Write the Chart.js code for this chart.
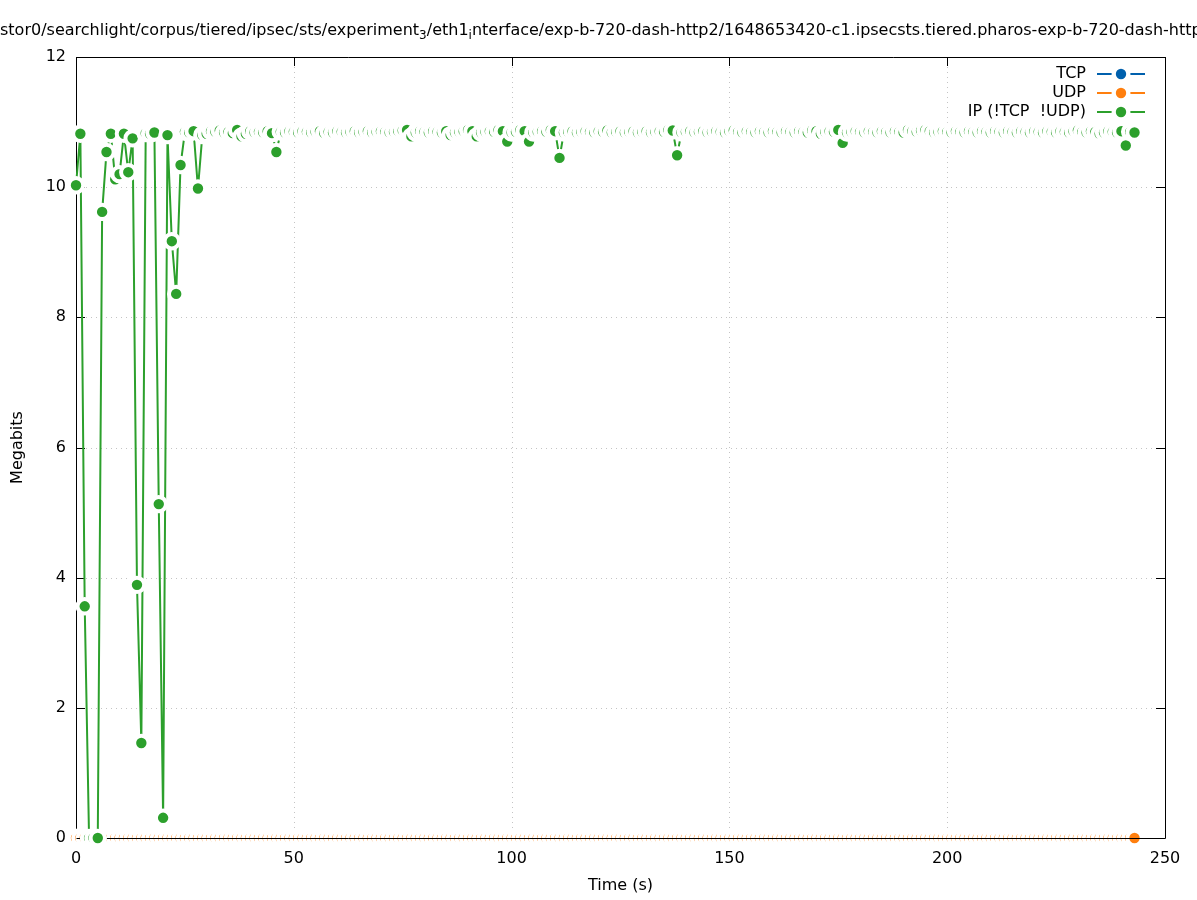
<!DOCTYPE html>
<html>
<head>
<meta charset="utf-8">
<script src="https://cdn.jsdelivr.net/npm/chart.js@4.4.1/dist/chart.umd.min.js"></script>
<style>
html,body{margin:0;padding:0;background:#fff;}
#wrap{width:1197px;height:900px;position:relative;}
</style>
</head>
<body>
<div id="wrap"><canvas id="c" width="1197" height="900"></canvas></div>
<script>
// ---- data ----
const timeSec = [
0,1,2,3,4,5,6,7,8,9,10,11,12,13,14,15,16,17,18,19,20,21,22,23,24,25,26,27,28,29,
30,31,32,33,34,35,36,37,38,39,40,41,42,43,44,45,46,47,48,49,50,51,52,53,54,55,56,57,58,59,
60,61,62,63,64,65,66,67,68,69,70,71,72,73,74,75,76,77,78,79,80,81,82,83,84,85,86,87,88,89,
90,91,92,93,94,95,96,97,98,99,100,101,102,103,104,105,106,107,108,109,110,111,112,113,114,115,116,117,118,119,
120,121,122,123,124,125,126,127,128,129,130,131,132,133,134,135,136,137,138,139,140,141,142,143,144,145,146,147,148,149,
150,151,152,153,154,155,156,157,158,159,160,161,162,163,164,165,166,167,168,169,170,171,172,173,174,175,176,177,178,179,
180,181,182,183,184,185,186,187,188,189,190,191,192,193,194,195,196,197,198,199,200,201,202,203,204,205,206,207,208,209,
210,211,212,213,214,215,216,217,218,219,220,221,222,223,224,225,226,227,228,229,230,231,232,233,234,235,236,237,238,239,
240,241,242,243];

const tcpMbits = [
0,0,0,0,0,0,0,0,0,0,0,0,0,0,0,0,0,0,0,0,0,0,0,0,0,0,0,0,0,0,
0,0,0,0,0,0,0,0,0,0,0,0,0,0,0,0,0,0,0,0,0,0,0,0,0,0,0,0,0,0,
0,0,0,0,0,0,0,0,0,0,0,0,0,0,0,0,0,0,0,0,0,0,0,0,0,0,0,0,0,0,
0,0,0,0,0,0,0,0,0,0,0,0,0,0,0,0,0,0,0,0,0,0,0,0,0,0,0,0,0,0,
0,0,0,0,0,0,0,0,0,0,0,0,0,0,0,0,0,0,0,0,0,0,0,0,0,0,0,0,0,0,
0,0,0,0,0,0,0,0,0,0,0,0,0,0,0,0,0,0,0,0,0,0,0,0,0,0,0,0,0,0,
0,0,0,0,0,0,0,0,0,0,0,0,0,0,0,0,0,0,0,0,0,0,0,0,0,0,0,0,0,0,
0,0,0,0,0,0,0,0,0,0,0,0,0,0,0,0,0,0,0,0,0,0,0,0,0,0,0,0,0,0,
0,0,0,0];

const udpMbits = [
0,0,0,0,0,0,0,0,0,0,0,0,0,0,0,0,0,0,0,0,0,0,0,0,0,0,0,0,0,0,
0,0,0,0,0,0,0,0,0,0,0,0,0,0,0,0,0,0,0,0,0,0,0,0,0,0,0,0,0,0,
0,0,0,0,0,0,0,0,0,0,0,0,0,0,0,0,0,0,0,0,0,0,0,0,0,0,0,0,0,0,
0,0,0,0,0,0,0,0,0,0,0,0,0,0,0,0,0,0,0,0,0,0,0,0,0,0,0,0,0,0,
0,0,0,0,0,0,0,0,0,0,0,0,0,0,0,0,0,0,0,0,0,0,0,0,0,0,0,0,0,0,
0,0,0,0,0,0,0,0,0,0,0,0,0,0,0,0,0,0,0,0,0,0,0,0,0,0,0,0,0,0,
0,0,0,0,0,0,0,0,0,0,0,0,0,0,0,0,0,0,0,0,0,0,0,0,0,0,0,0,0,0,
0,0,0,0,0,0,0,0,0,0,0,0,0,0,0,0,0,0,0,0,0,0,0,0,0,0,0,0,0,0,
0,0,0,0];

const ipMbits = [
10.03,10.82,3.56,0,0,0.0,9.62,10.54,10.82,10.12,
10.20,10.82,10.23,10.75,3.89,1.46,10.83,10.82,10.84,5.13,
0.31,10.80,9.17,8.36,10.34,10.85,10.84,10.86,9.98,10.80,
10.82,10.86,10.85,10.87,10.84,10.85,10.83,10.88,10.78,10.82,
10.86,10.84,10.85,10.84,10.86,10.83,10.54,10.85,10.84,10.86,
10.85,10.84,10.86,10.85,10.84,10.85,10.86,10.83,10.85,10.84,
10.86,10.85,10.84,10.85,10.86,10.84,10.85,10.86,10.84,10.85,
10.86,10.85,10.84,10.85,10.86,10.87,10.88,10.78,10.84,10.86,
10.85,10.84,10.86,10.85,10.84,10.86,10.80,10.84,10.85,10.86,
10.88,10.86,10.78,10.84,10.85,10.86,10.85,10.88,10.86,10.70,
10.84,10.85,10.88,10.86,10.70,10.84,10.85,10.86,10.85,10.88,
10.86,10.45,10.84,10.85,10.86,10.84,10.85,10.86,10.85,10.84,
10.86,10.85,10.87,10.84,10.85,10.86,10.84,10.85,10.86,10.84,
10.85,10.86,10.84,10.85,10.86,10.85,10.88,10.87,10.49,10.84,
10.85,10.86,10.84,10.85,10.86,10.84,10.85,10.86,10.85,10.84,
10.86,10.87,10.85,10.84,10.86,10.85,10.84,10.86,10.85,10.84,
10.86,10.85,10.84,10.86,10.85,10.84,10.86,10.85,10.84,10.87,
10.86,10.82,10.85,10.86,10.85,10.88,10.68,10.84,10.85,10.86,
10.85,10.84,10.86,10.85,10.84,10.86,10.85,10.84,10.86,10.85,
10.84,10.88,10.86,10.85,10.87,10.88,10.86,10.84,10.85,10.86,
10.85,10.84,10.86,10.85,10.84,10.86,10.85,10.84,10.86,10.85,
10.84,10.86,10.85,10.84,10.86,10.85,10.84,10.86,10.85,10.84,
10.86,10.85,10.84,10.86,10.85,10.84,10.86,10.85,10.84,10.86,
10.87,10.85,10.84,10.86,10.85,10.82,10.84,10.86,10.85,10.84,
10.86,10.64,10.85,10.84];

const seriesNames = ['TCP', 'UDP', 'IP (!TCP  !UDP)'];
const seriesColors = ['#0060ad', '#ff7f0e', '#2ca02c'];
const xTickStep = 50, yTickStep = 2;
const xRange = [0, 250], yRange = [0, 12];
const titleParts = [
  ['stor0/searchlight/corpus/tiered/ipsec/sts/experiment', false],
  ['3', true],
  ['/eth1', false],
  ['i', true],
  ['nterface/exp-b-720-dash-http2/1648653420-c1.ipsecsts.tiered.pharos-exp-b-720-dash-http2', false]
];
const xTitle = 'Time (s)';
const yTitle = 'Megabits';

// ---- chart ----
const FONT = '"DejaVu Sans", "Liberation Sans", sans-serif';
const FS = 16;

function toPts(vals){ return timeSec.map((t,i)=>({x:t, y:vals[i]})); }

function ds(label, vals, color, order){
  return {
    label, data: toPts(vals), order,
    borderColor: color, backgroundColor: color,
    borderWidth: 2, tension: 0,
    pointRadius: 7.2, pointHoverRadius: 7.2,
    pointBorderWidth: 4, pointHoverBorderWidth: 4,
    pointBorderColor: '#ffffff', pointBackgroundColor: color,
    clip: false
  };
}

const framePlugin = {
  id: 'frame',
  beforeDatasetsDraw(chart){
    const {ctx, chartArea:a, scales:{x, y}} = chart;
    ctx.save();
    ctx.lineWidth = 1;
    ctx.strokeStyle = '#c4c4c4';
    ctx.setLineDash([1,4]);
    x.ticks.forEach(t=>{
      if (t.value > x.min && t.value < x.max){
        const p = Math.round(x.getPixelForValue(t.value)) + 0.5;
        ctx.beginPath(); ctx.moveTo(p, a.top); ctx.lineTo(p, a.bottom); ctx.stroke();
      }
    });
    y.ticks.forEach(t=>{
      if (t.value > y.min && t.value < y.max){
        const p = Math.round(y.getPixelForValue(t.value)) + 0.5;
        ctx.beginPath(); ctx.moveTo(a.left, p); ctx.lineTo(a.right, p); ctx.stroke();
      }
    });
    ctx.setLineDash([]);
    ctx.strokeStyle = '#000';
    const TL = 9;
    x.ticks.forEach(t=>{
      const p = Math.round(x.getPixelForValue(t.value)) + 0.5;
      ctx.beginPath();
      ctx.moveTo(p, a.bottom); ctx.lineTo(p, a.bottom - TL);
      ctx.moveTo(p, a.top); ctx.lineTo(p, a.top + TL);
      ctx.stroke();
    });
    y.ticks.forEach(t=>{
      const p = Math.round(y.getPixelForValue(t.value)) + 0.5;
      ctx.beginPath();
      ctx.moveTo(a.left, p); ctx.lineTo(a.left + TL, p);
      ctx.moveTo(a.right, p); ctx.lineTo(a.right - TL, p);
      ctx.stroke();
    });
    const L = Math.round(a.left)+0.5, R = Math.round(a.right)+0.5, T = Math.round(a.top)+0.5, B = Math.round(a.bottom)+0.5;
    ctx.beginPath();
    ctx.moveTo(L, B); ctx.lineTo(L, T); ctx.lineTo(R, T); ctx.lineTo(R, B);
    ctx.stroke();
    ctx.restore();
  },
  beforeDatasetDraw(chart, args){
    if (args.index === 2){
      const {ctx, chartArea:a} = chart;
      const L = Math.round(a.left)+0.5, R = Math.round(a.right)+0.5, B = Math.round(a.bottom)+0.5;
      ctx.save();
      ctx.strokeStyle = '#000'; ctx.lineWidth = 1;
      ctx.beginPath(); ctx.moveTo(L, B); ctx.lineTo(R, B); ctx.stroke();
      ctx.restore();
    }
  },
  afterDraw(chart){
    const {ctx, chartArea:a} = chart;
    ctx.save();
    ctx.fillStyle = '#000';
    // title
    let tx = 0;
    const tyBase = 35;
    ctx.textAlign = 'left'; ctx.textBaseline = 'alphabetic';
    titleParts.forEach(([s, sub])=>{
      ctx.font = (sub ? 12 : FS) + 'px ' + FONT;
      ctx.fillText(s, tx, tyBase + (sub ? 4 : 0));
      tx += ctx.measureText(s).width;
    });
    // axis titles
    ctx.font = FS + 'px ' + FONT;
    ctx.textAlign = 'center'; ctx.textBaseline = 'middle';
    ctx.fillText(xTitle, (a.left + a.right)/2, 886);
    ctx.save();
    ctx.translate(18, (a.top + a.bottom)/2);
    ctx.rotate(-Math.PI/2);
    ctx.fillText(yTitle, 0, 0);
    ctx.restore();
    // legend
    const textRight = 1086, sx0 = 1097, sx1 = 1145, rowY = [74, 93, 112];
    seriesNames.forEach((name, i)=>{
      const yy = rowY[i];
      ctx.font = FS + 'px ' + FONT;
      ctx.textAlign = 'right'; ctx.textBaseline = 'middle';
      ctx.fillStyle = '#000';
      ctx.fillText(name, textRight, yy);
      ctx.strokeStyle = seriesColors[i]; ctx.lineWidth = 2;
      ctx.beginPath(); ctx.moveTo(sx0, yy); ctx.lineTo(sx1, yy); ctx.stroke();
      const cx = (sx0 + sx1)/2;
      ctx.beginPath(); ctx.arc(cx, yy, 9.5, 0, Math.PI*2); ctx.fillStyle = '#fff'; ctx.fill();
      ctx.beginPath(); ctx.arc(cx, yy, 5.2, 0, Math.PI*2); ctx.fillStyle = seriesColors[i]; ctx.fill();
    });
    ctx.restore();
  }
};

new Chart(document.getElementById('c'), {
  type: 'line',
  data: {
    datasets: [
      ds(seriesNames[0], tcpMbits, seriesColors[0], 2),
      ds(seriesNames[1], udpMbits, seriesColors[1], 1),
      ds(seriesNames[2], ipMbits, seriesColors[2], 0)
    ]
  },
  options: {
    responsive: false,
    animation: false,
    events: [],
    layout: { padding: { top: 57, right: 32, left: 0, bottom: 0 } },
    plugins: { legend: { display: false }, tooltip: { enabled: false }, title: { display: false } },
    scales: {
      x: {
        type: 'linear', min: xRange[0], max: xRange[1],
        grid: { display: false, drawTicks: false },
        border: { display: false },
        ticks: { stepSize: xTickStep, color: '#000', font: { family: FONT, size: FS }, padding: 11, maxRotation: 0 },
        afterFit(s){ s.height = 62; }
      },
      y: {
        type: 'linear', min: yRange[0], max: yRange[1],
        grid: { display: false, drawTicks: false },
        border: { display: false },
        ticks: { stepSize: yTickStep, color: '#000', font: { family: FONT, size: FS }, padding: 10 },
        afterFit(s){ s.width = 76; }
      }
    }
  },
  plugins: [framePlugin]
});
</script>
</body>
</html>
